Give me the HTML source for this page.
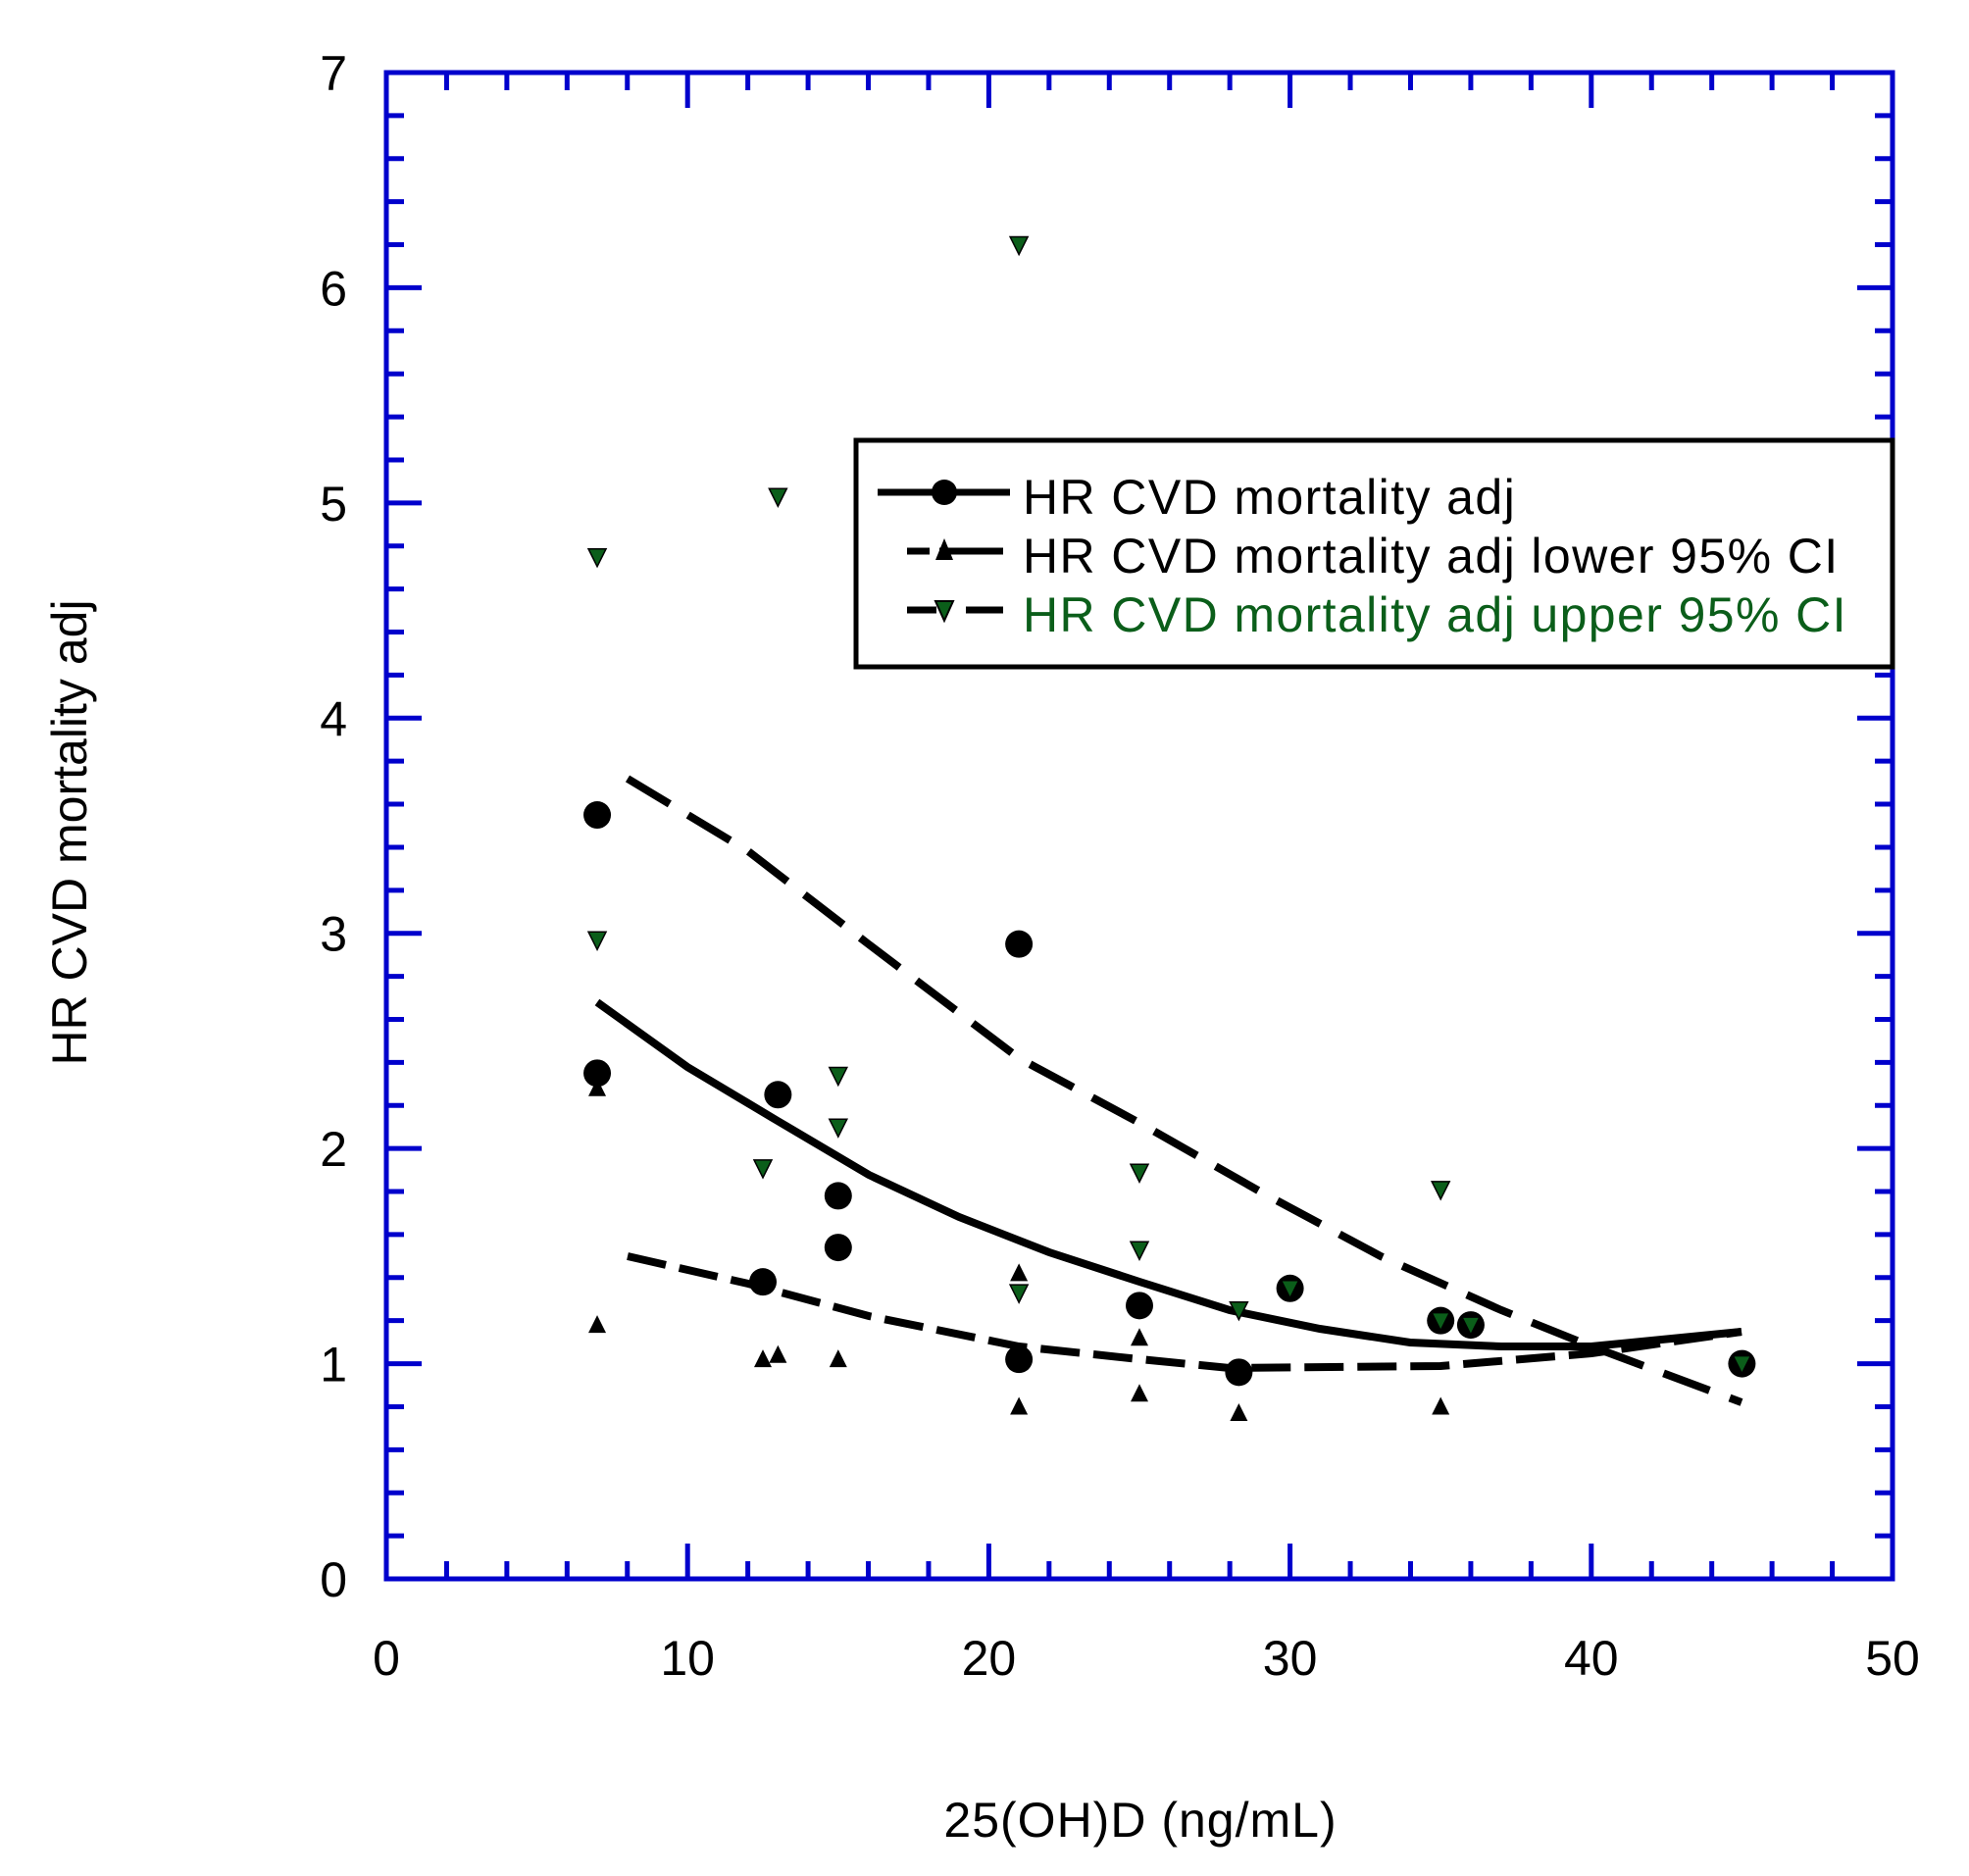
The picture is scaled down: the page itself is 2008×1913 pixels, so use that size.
<!DOCTYPE html>
<html><head><meta charset="utf-8"><style>
html,body{margin:0;padding:0;background:#fff;}
svg{display:block;font-family:"Liberation Sans",Arial,sans-serif;}
</style></head><body>
<svg id="s" width="2008" height="1913" xmlns="http://www.w3.org/2000/svg">
<rect width="2008" height="1913" fill="#fff"/>
<g id="ax"></g>
<polyline fill="none" stroke="#000" stroke-width="8" points="609,1022 701,1088 793,1143 886,1198 978,1241 1070,1277 1162,1307 1254,1336 1346,1355 1438,1369 1531,1373 1623,1373 1715,1364 1776,1358"/>
<polyline fill="none" stroke="#000" stroke-width="8" stroke-dasharray="40,14" points="640,1281 763,1309 886,1342 1039,1373 1162,1386 1254,1395 1469,1393 1623,1380 1776,1358"/>
<polyline fill="none" stroke="#000" stroke-width="8" stroke-dasharray="50,22" points="640,794 763,868 886,963 1039,1079 1162,1145 1285,1215 1408,1281 1531,1336 1623,1373 1776,1430"/>
<g id="pts"></g>
<rect x="873" y="449" width="1057" height="231" fill="#fff" stroke="#000" stroke-width="5"/>
<line x1="895" y1="502" x2="1030" y2="502" stroke="#000" stroke-width="7"/>
<circle cx="963" cy="502" r="13" fill="#000"/>
<line x1="925" y1="562" x2="948" y2="562" stroke="#000" stroke-width="7"/>
<line x1="958" y1="562" x2="1023" y2="562" stroke="#000" stroke-width="7"/>
<polygon points="963,549 954,571 972,571" fill="#000"/>
<line x1="925" y1="622" x2="955" y2="622" stroke="#000" stroke-width="7"/>
<line x1="985" y1="622" x2="1023" y2="622" stroke="#000" stroke-width="7"/>
<polygon points="954,613 972,613 963,633" fill="#0b5e1a" stroke="#000" stroke-width="2"/>
<text x="1043" y="524" font-size="50" letter-spacing="1.4" fill="#000">HR CVD mortality adj</text>
<text x="1043" y="584" font-size="50" letter-spacing="1.4" fill="#000">HR CVD mortality adj lower 95% CI</text>
<text x="1043" y="644" font-size="50" letter-spacing="1.4" fill="#0b5e1a">HR CVD mortality adj upper 95% CI</text>
<text x="1163" y="1873" font-size="50" letter-spacing="1" text-anchor="middle">25(OH)D (ng/mL)</text>
<text transform="translate(88,849) rotate(-90)" font-size="50" text-anchor="middle">HR CVD mortality adj</text>
</svg>
<script>
function X(v){return 394+30.72*v;} function Y(v){return 1610-219.43*v;}
var ax=document.getElementById('ax'),h='';
h+='<rect x="394" y="74" width="1536" height="1536" fill="none" stroke="#0000cc" stroke-width="5"/>';
for(var i=0;i<=25;i++){var x=X(i*2),L=(i%5==0)?36:18;
 h+='<line x1="'+x+'" y1="1610" x2="'+x+'" y2="'+(1610-L)+'" stroke="#0000cc" stroke-width="5"/>';
 h+='<line x1="'+x+'" y1="74" x2="'+x+'" y2="'+(74+L)+'" stroke="#0000cc" stroke-width="5"/>';
 if(i%5==0)h+='<text x="'+x+'" y="1708" font-size="50" text-anchor="middle">'+(i*2)+'</text>';}
for(var j=0;j<=35;j++){var y=Y(j*0.2),L=(j%5==0)?36:18;
 h+='<line x1="394" y1="'+y+'" x2="'+(394+L)+'" y2="'+y+'" stroke="#0000cc" stroke-width="5"/>';
 h+='<line x1="1930" y1="'+y+'" x2="'+(1930-L)+'" y2="'+y+'" stroke="#0000cc" stroke-width="5"/>';
 if(j%5==0)h+='<text x="354" y="'+(y+18)+'" font-size="50" text-anchor="end">'+(j/5)+'</text>';}
ax.innerHTML=h;
var c=[[7,3.55],[7,2.35],[13,2.25],[12.5,1.38],[15,1.78],[15,1.54],[21,2.95],[21,1.02],[25,1.27],[28.3,0.96],[30,1.35],[35,1.2],[36,1.18],[45,1.0]];
var u=[[7,2.28],[7,1.18],[12.5,1.02],[13,1.04],[15,1.02],[21,1.42],[21,0.8],[25,1.12],[25,0.86],[28.3,0.77],[35,0.8]];
var d=[[7,4.75],[7,2.97],[13,5.03],[12.5,1.91],[15,2.34],[15,2.1],[21,6.2],[21,1.33],[25,1.89],[25,1.53],[28.3,1.25],[30,1.35],[35,1.81],[35,1.2],[36,1.18],[45,1.0]];
var p='';
c.forEach(function(a){p+='<circle cx="'+X(a[0])+'" cy="'+Y(a[1])+'" r="14" fill="#000"/>';});
u.forEach(function(a){var x=X(a[0]),y=Y(a[1]);p+='<polygon points="'+x+','+(y-10)+' '+(x-9)+','+(y+8)+' '+(x+9)+','+(y+8)+'" fill="#000"/>';});
d.forEach(function(a){var x=X(a[0]),y=Y(a[1]);p+='<polygon points="'+(x-9)+','+(y-8)+' '+(x+9)+','+(y-8)+' '+x+','+(y+10)+'" fill="#0b5e1a" stroke="#000" stroke-width="1.5"/>';});
document.getElementById('pts').innerHTML=p;
</script>
</body></html>
